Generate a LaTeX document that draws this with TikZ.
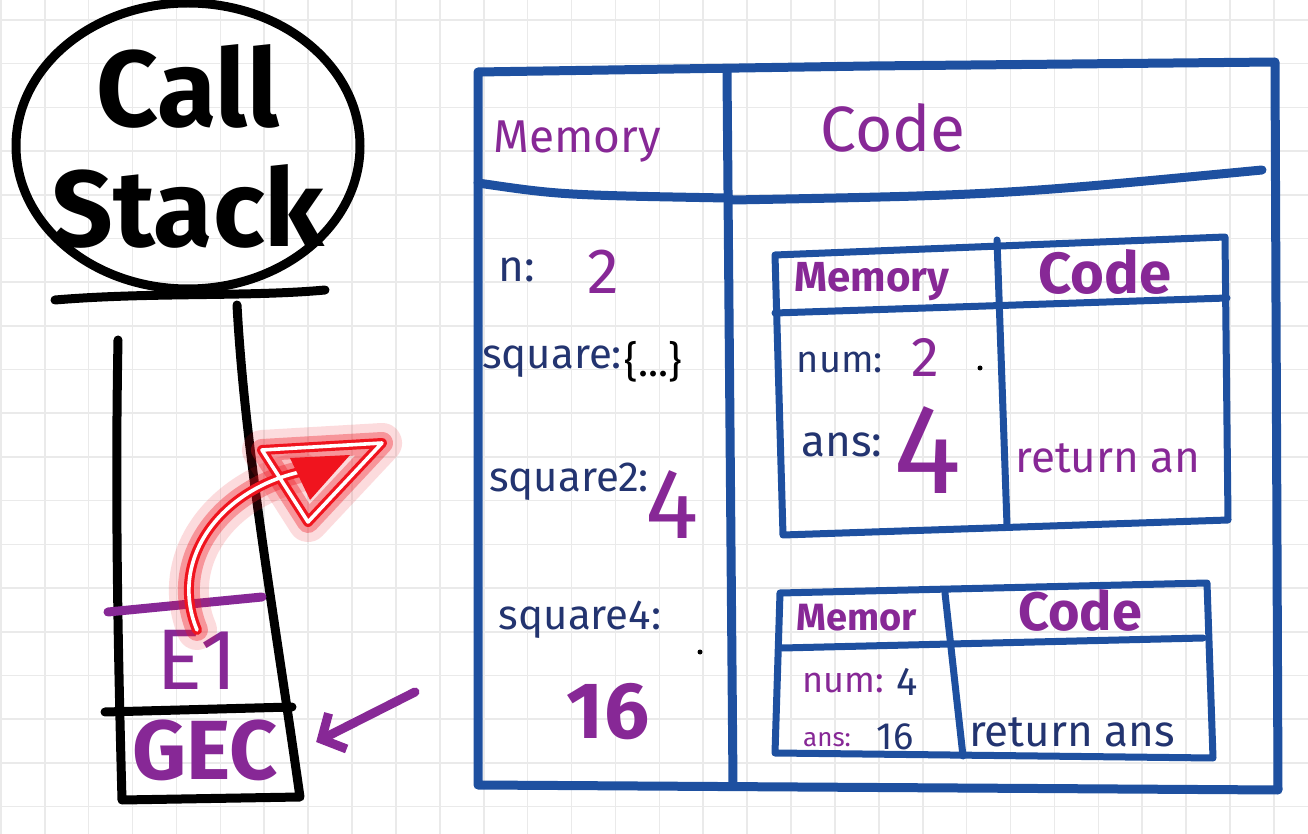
\documentclass[tikz,border=0pt]{standalone}
\usepackage{fontspec}
\setmainfont{Fira Sans}
\usetikzlibrary{arrows.meta,positioning,shapes.geometric}

\definecolor{penblue}{RGB}{30,80,160}
\definecolor{inkpurple}{RGB}{135,40,150}
\definecolor{inkblue}{RGB}{35,52,112}
\definecolor{gridgray}{RGB}{234,234,234}
\definecolor{glowred}{RGB}{240,20,30}

\begin{document}
\begin{tikzpicture}[x=0.5pt, y=-0.5pt,
    gridline/.style={gridgray, line width=0.8pt},
    blk/.style={black, line width=4.5pt, line cap=round, line join=round},
    frame/.style={penblue, line width=4.5pt, line cap=round, line join=round},
    subframe/.style={penblue, line width=3.5pt, line cap=round, line join=round},
    lbl/.style={text=inkblue, inner sep=0pt, font=\fontsize{#1}{#1}\selectfont},
    val/.style={text=inkpurple, inner sep=0pt, font=\fontsize{#1}{#1}\selectfont},
    hdr/.style={text=inkpurple, inner sep=0pt, font=\fontsize{#1}{#1}\selectfont\bfseries},
    parr/.style={inkpurple, line width=4.5pt, line cap=round, -{Straight Barb[length=9pt, width=20pt]}}
]
\useasboundingbox (0,0) rectangle (1308,834);
\fill[white] (0,0) rectangle (1308,834);
\foreach \i in {0,...,29} \draw[gridline] ({0.8+43.9*\i},0) -- ++(0,834);
\foreach \j in {0,...,18} \draw[gridline] (0,{20+43.7*\j}) -- ++(1308,0);

\node[align=center, inner sep=0pt, font=\fontsize{54}{60}\selectfont\bfseries] (callstack) at (188,146) {Call\\Stack};
\draw[blk] (callstack.center) ellipse [x radius=172, y radius=143];
\draw[blk] (55,300) .. controls (150,292) and (250,297) .. (325,290);

\draw[blk] (118,340) .. controls (115,500) and (118,650) .. (122,800) -- (300,797)
    .. controls (272,600) and (245,450) .. (237,305);
\draw[blk] (105,712) -- (292,707);
\draw[inkpurple, line width=4.5pt, line cap=round] (108,612) -- (262,597);
\node[val=43] (e1) at (197,660) {E1};
\node[hdr=42] (gec) at (205,750) {GEC};

\coordinate (gectail) at (415,692);
\draw[parr] (gectail) -- ([xshift=19pt,yshift=4pt]gec.east);

\coordinate (redtip) at (300,472);
\foreach \w/\c/\o in {20pt/glowred/0.15, 11pt/glowred/0.35, 5pt/glowred/1, 1.8pt/white/1} {
    \draw[line width=\w, \c, opacity=\o, line cap=round] (e1.north) .. controls (168,560) and (220,490) .. (redtip);
    \draw[line width=\w, \c, opacity=\o, line join=round] (262,450) -- (382,443) -- (308,522) -- cycle;
}
\fill[glowred] (290,458) -- (350,455) -- (310,500) -- cycle;

\draw[frame] (478,72) -- (870,66) -- (1275,62) -- (1278,790) -- (478,785) -- cycle;
\draw[frame] (727,72) -- (733,785);
\draw[frame] (478,183) .. controls (560,195) .. (727,198) -- (733,200) .. controls (1000,195) .. (1262,170);
\node[val=23] (memhead) at (577,142) {Memory};
\node[val=32] (codehead) at (893,128) {Code};

\node[lbl=22] (nlbl) at (517,270) {n:};
\node[val=32] (nval) at (603,272) {2};
\node[lbl=21] (sqlbl) at (552,362) {square:};
\node[inner sep=0pt, right=1pt of sqlbl, font=\fontsize{21}{21}\selectfont] (sqval) {\{...\}};
\node[lbl=21] (sq2lbl) at (569,482) {square2:};
\node[val=50] (sq2val) at (672,505) {4};
\node[lbl=21] (sq4lbl) at (580,620) {square4:};
\node[hdr=40] (sq4val) at (608,712) {16};
\fill[black] (700,652) circle (2.5);

\draw[subframe] (775,255) -- (1225,237) -- (1228,520) -- (783,535) -- cycle;
\draw[subframe] (997,240) -- (1007,525);
\draw[subframe] (775,313) -- (1227,298);
\node[hdr=21] (memone) at (872,282) {Memory};
\node[hdr=29] (codeone) at (1105,272) {Code};
\node[lbl=19] (numone) at (840,362) {num:};
\node[val=28] (numoneval) at (925,357) {2};
\node[lbl=22] (ansone) at (842,445) {ans:};
\node[val=64] (ansoneval) at (928,450) {4};
\node[val=22] (retone) at (1108,458) {return an};
\fill[black] (980,368) circle (2.5);

\draw[subframe] (780,593) -- (1207,583) -- (1213,758) -- (775,753) -- cycle;
\draw[subframe] (945,593) -- (963,756);
\draw[subframe] (782,648) -- (1203,638);
\node[hdr=19] (memtwo) at (857,618) {Memor};
\node[hdr=27] (codetwo) at (1080,610) {Code};
\node[val=18] (numtwo) at (843,683) {num:};
\node[lbl=20] (numtwoval) at (907,682) {4};
\node[val=13] (anstwo) at (827,740) {ans:};
\node[lbl=19] (anstwoval) at (895,737) {16};
\node[lbl=22] (rettwo) at (1072,732) {return ans};
\end{tikzpicture}
\end{document}
